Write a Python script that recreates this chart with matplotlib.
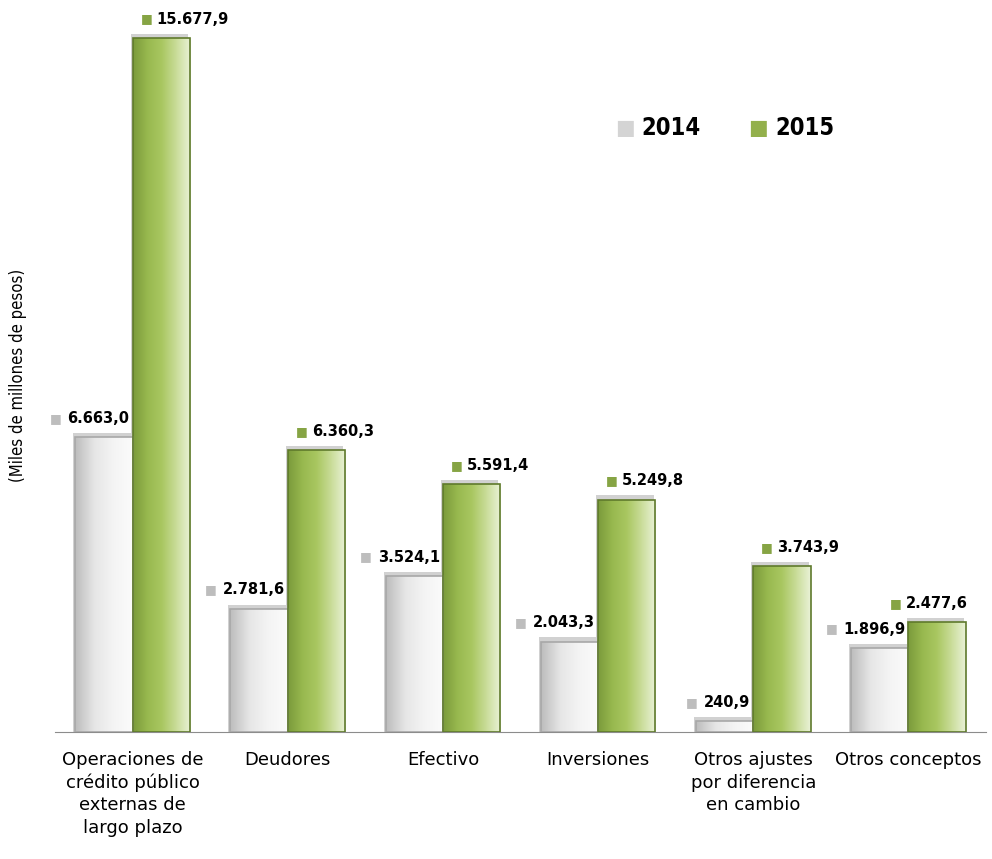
import matplotlib.pyplot as plt
import numpy as np
from matplotlib.colors import LinearSegmentedColormap

categorias = [
    "Operaciones de\ncrédito público\nexternas de\nlargo plazo",
    "Deudores",
    "Efectivo",
    "Inversiones",
    "Otros ajustes\npor diferencia\nen cambio",
    "Otros conceptos",
]
valores_2014 = [6663.0, 2781.6, 3524.1, 2043.3, 240.9, 1896.9]
valores_2015 = [15677.9, 6360.3, 5591.4, 5249.8, 3743.9, 2477.6]
etiquetas_2014 = ["6.663,0", "2.781,6", "3.524,1", "2.043,3", "240,9", "1.896,9"]
etiquetas_2015 = ["15.677,9", "6.360,3", "5.591,4", "5.249,8", "3.743,9", "2.477,6"]

gris = LinearSegmentedColormap.from_list("gris", ["#bdbdbd", "#e6e6e6", "#f4f4f4", "#fbfbfb"])
verde = LinearSegmentedColormap.from_list("verde", ["#7b9b3c", "#98b94f", "#a9c761", "#c9dc98", "#e9f2d6"])

fig = plt.figure(figsize=(9.92, 8.59), dpi=100)
ax = fig.add_axes([55 / 992, 127 / 859, 931 / 992, 702 / 859])

w = 0.37
x = np.arange(len(categorias))
px_per_unit = 694 / 15677.9
ymax = 702 / px_per_unit

grad = np.linspace(0, 1, 64).reshape(1, -1)


def gradient_bars(bars, cmap, edge):
    for b in bars:
        x0, y0 = b.get_x(), b.get_y()
        bw, bh = b.get_width(), b.get_height()
        # sombra
        ax.add_patch(plt.Rectangle((x0 - 0.012, y0), bw, bh + ymax * 0.006,
                                   facecolor="#9a9a9a", alpha=0.45, edgecolor="none", zorder=1))
        im = ax.imshow(grad, cmap=cmap, aspect="auto", extent=(x0, x0 + bw, y0, y0 + bh),
                       zorder=2, interpolation="bicubic")
        im.set_clip_path(b)
        b.set_facecolor("none")
        b.set_edgecolor(edge)
        b.set_linewidth(1.2)
        b.set_zorder(3)


b14 = ax.bar(x - w / 2, valores_2014, w, label="2014")
b15 = ax.bar(x + w / 2, valores_2015, w, label="2015")
gradient_bars(b14, gris, "#a8a8a8")
gradient_bars(b15, verde, "#5f7a2c")
ax.set_xlim(-0.5, len(categorias) - 0.5)
ax.set_ylim(0, ymax)

for s in ["top", "right", "left"]:
    ax.spines[s].set_visible(False)
ax.spines["bottom"].set_color("#8c8c8c")
ax.set_yticks([])
ax.set_xticks(x)
ax.set_xticklabels(categorias, fontsize=13, linespacing=1.3, va="top")
ax.tick_params(axis="x", length=0, pad=14)

fig.text(18 / 992, 1 - 375 / 859, "(Miles de millones de pesos)", rotation=90,
         ha="center", va="center", fontsize=12, fontstretch="condensed")

fig.canvas.draw()
renderer = fig.canvas.get_renderer()
fig_w = fig.bbox.width

for i in range(len(categorias)):
    # etiqueta 2014: alineada a la derecha del borde de la barra
    t = ax.annotate(etiquetas_2014[i], (x[i], valores_2014[i]), xytext=(-3, 19),
                    textcoords="offset pixels", ha="right", va="center",
                    fontsize=10.5, fontweight="bold", zorder=5)
    bb = t.get_window_extent(renderer)
    ax.annotate("■", (x[i], valores_2014[i]), xytext=(-3 - bb.width - 12, 19),
                textcoords="offset pixels", ha="center", va="center",
                fontsize=9, color="#bdbdbd", zorder=5)
    # etiqueta 2015 (se corre a la izquierda si no cabe)
    t = ax.annotate(etiquetas_2015[i], (x[i], valores_2015[i]), xytext=(24, 19),
                    textcoords="offset pixels", ha="left", va="center",
                    fontsize=10.5, fontweight="bold", zorder=5)
    bb = t.get_window_extent(renderer)
    shift = min(0, fig_w - 24 - bb.x1)
    t.set_position((24 + shift, 19))
    ax.annotate("■", (x[i], valores_2015[i]), xytext=(14 + shift, 19),
                textcoords="offset pixels", ha="center", va="center",
                fontsize=9, color="#86a444", zorder=5)

# leyenda
fig.text(625 / 992, 1 - 128 / 859, "■", fontsize=15, color="#d4d4d4", ha="center", va="center")
fig.text(641 / 992, 1 - 128 / 859, "2014", fontsize=17, fontweight="bold", fontstretch="condensed",
         ha="left", va="center")
fig.text(758 / 992, 1 - 128 / 859, "■", fontsize=15, color="#93b04c", ha="center", va="center")
fig.text(775 / 992, 1 - 128 / 859, "2015", fontsize=17, fontweight="bold", fontstretch="condensed",
         ha="left", va="center")

fig.savefig("out.png", dpi=100)
